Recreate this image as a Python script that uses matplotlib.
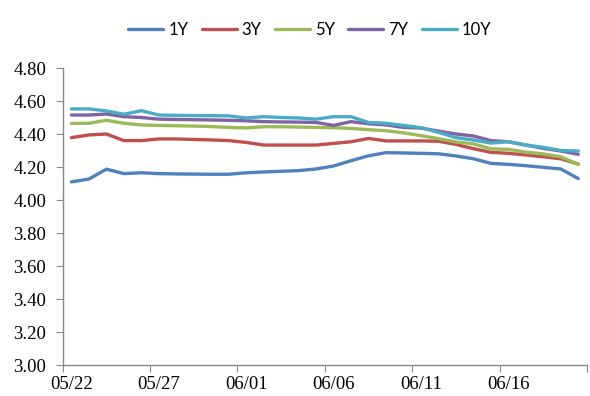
import matplotlib
matplotlib.use("Agg")
import matplotlib.pyplot as plt
import numpy as np

# Daily yields, 05/22 through 06/20
dates = ["05/22", "05/23", "05/24", "05/25", "05/26", "05/27", "05/28", "05/29",
         "05/30", "05/31", "06/01", "06/02", "06/03", "06/04", "06/05", "06/06",
         "06/07", "06/08", "06/09", "06/10", "06/11", "06/12", "06/13", "06/14",
         "06/15", "06/16", "06/17", "06/18", "06/19", "06/20"]

y1 = [4.110, 4.127, 4.187, 4.160, 4.165, 4.160, 4.158, 4.157, 4.156, 4.156,
      4.165, 4.170, 4.174, 4.178, 4.188, 4.206, 4.238, 4.268, 4.287, 4.285,
      4.283, 4.280, 4.267, 4.250, 4.222, 4.216, 4.208, 4.198, 4.188, 4.130]
y3 = [4.378, 4.394, 4.400, 4.360, 4.360, 4.370, 4.370, 4.367, 4.364, 4.360,
      4.349, 4.333, 4.333, 4.333, 4.333, 4.343, 4.353, 4.373, 4.358, 4.358,
      4.358, 4.356, 4.337, 4.311, 4.289, 4.283, 4.273, 4.262, 4.250, 4.218]
y5 = [4.464, 4.465, 4.483, 4.465, 4.455, 4.452, 4.450, 4.448, 4.445, 4.440,
      4.437, 4.444, 4.444, 4.442, 4.440, 4.438, 4.434, 4.426, 4.420, 4.407,
      4.390, 4.372, 4.352, 4.340, 4.310, 4.307, 4.290, 4.279, 4.262, 4.216]
y7 = [4.515, 4.515, 4.521, 4.505, 4.500, 4.490, 4.488, 4.487, 4.485, 4.483,
      4.480, 4.475, 4.473, 4.472, 4.470, 4.452, 4.475, 4.462, 4.455, 4.440,
      4.436, 4.418, 4.400, 4.388, 4.360, 4.353, 4.333, 4.313, 4.297, 4.277]
y10 = [4.552, 4.552, 4.540, 4.520, 4.541, 4.515, 4.513, 4.512, 4.511, 4.510,
       4.497, 4.505, 4.500, 4.497, 4.490, 4.505, 4.505, 4.470, 4.465, 4.452,
       4.438, 4.410, 4.378, 4.364, 4.345, 4.353, 4.333, 4.319, 4.300, 4.297]

series_names = ["1Y", "3Y", "5Y", "7Y", "10Y"]
series_values = [y1, y3, y5, y7, y10]
colors = ["#4F81BD", "#C0504D", "#9BBB59", "#8064A2", "#4BACC6"]

yticks = np.arange(3.00, 4.801, 0.20)

fig = plt.figure(figsize=(5.90, 3.96), dpi=100)
ax = fig.add_axes([62.7 / 590, 1 - 365 / 396, (587 - 62.7) / 590, (365 - 68) / 396])

x = np.arange(len(dates))
handles = []
for name, vals, c in zip(series_names, series_values, colors):
    h, = ax.plot(x, vals, color=c, lw=2.4, label=name, solid_joinstyle="round",
                 solid_capstyle="round")
    handles.append(h)

ax.set_xlim(-0.5, len(dates) - 0.5)
ax.set_ylim(3.00, 4.80)

# category axis: boundary ticks every 5 days, labels under the first day of each group
ax.set_xticks(np.arange(-0.5, len(dates), 5), minor=False)
ax.set_xticklabels([])
label_pos = np.arange(0, len(dates), 5)
ax.set_xticks(label_pos, minor=True)
ax.set_xticklabels([dates[i] for i in label_pos], minor=True)
ax.tick_params(axis="x", which="minor", length=0, pad=8)
ax.tick_params(axis="x", which="major", length=5, color="#888888", direction="out")

ax.set_yticks(yticks)
ax.set_yticklabels([f"{v:.2f}" for v in yticks])
ax.tick_params(axis="y", length=5, color="#888888", direction="out", pad=7)

serif = ["Liberation Serif", "DejaVu Serif"]
for lab in ax.get_xticklabels(minor=True) + ax.get_yticklabels():
    lab.set_fontfamily(serif)
    lab.set_fontsize(13.5)

for side in ["top", "right"]:
    ax.spines[side].set_visible(False)
for side in ["left", "bottom"]:
    ax.spines[side].set_color("#888888")
    ax.spines[side].set_linewidth(1.0)

fig.legend(handles=handles, labels=series_names, loc="center", ncol=5,
           bbox_to_anchor=(0.525, 1 - 30 / 396), frameon=False,
           prop={"family": "Lato", "size": 12}, handlelength=2.1,
           columnspacing=0.8, handletextpad=0.3)

fig.savefig("out.png", dpi=100)
